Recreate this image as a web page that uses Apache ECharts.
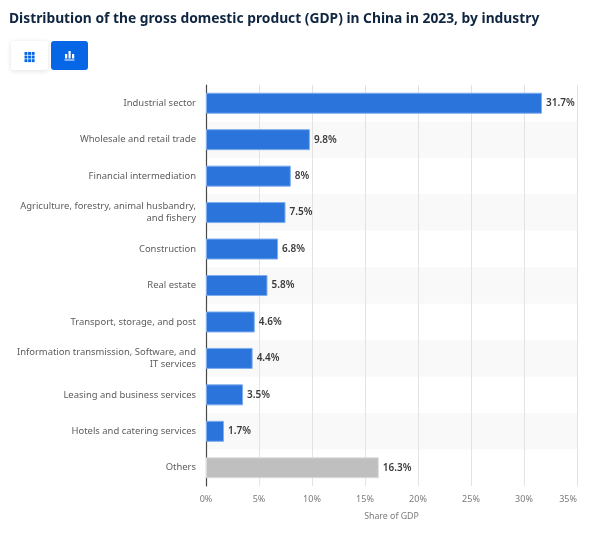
<!DOCTYPE html>
<html>
<head>
<meta charset="utf-8">
<style>
html, body { margin: 0; padding: 0; background: #ffffff; }
#main { width: 602px; height: 547px; }
</style>
<script src="https://cdn.jsdelivr.net/npm/echarts@6/dist/echarts.min.js"></script>
</head>
<body>
<div id="main"></div>
<script>
var categories = [
    'Industrial sector',
    'Wholesale and retail trade',
    'Financial intermediation',
    'Agriculture, forestry, animal husbandry,\nand fishery',
    'Construction',
    'Real estate',
    'Transport, storage, and post',
    'Information transmission, Software, and\nIT services',
    'Leasing and business services',
    'Hotels and catering services',
    'Others'
];
var shares = [31.7, 9.8, 8, 7.5, 6.8, 5.8, 4.6, 4.4, 3.5, 1.7, 16.3];
var greyCategory = 'Others';

var titleText = 'Distribution of the gross domestic product (GDP) in China in 2023, by industry';
var fontName = '"Noto Sans", "Open Sans", sans-serif';

var myChart = echarts.init(document.getElementById('main'));

var barData = shares.map(function (v, i) {
    var grey = categories[i] === greyCategory;
    return {
        value: v,
        itemStyle: {
            color: grey ? '#bfbfbf' : '#2a74db',
            borderColor: grey ? '#dcdcdc' : '#7fadee',
            borderWidth: 1
        }
    };
});

// 两个切换按钮和图标
var gridIcon = [];
for (var r = 0; r < 3; r++) {
    for (var c = 0; c < 3; c++) {
        gridIcon.push({
            type: 'rect',
            shape: { x: 24.5 + c * 3.6, y: 52 + r * 3.6, width: 2.9, height: 2.9 },
            style: { fill: '#0666e5' }
        });
    }
}

var option = {
    animation: false,
    textStyle: { fontFamily: fontName },
    title: {
        text: titleText,
        left: 4,
        top: 7,
        textStyle: { fontFamily: fontName, fontSize: 13.8, fontWeight: 700, color: '#0f2540' }
    },
    graphic: [
        {
            type: 'rect',
            shape: { x: 11, y: 41, width: 37, height: 29, r: 3 },
            style: { fill: '#ffffff', shadowBlur: 5, shadowColor: 'rgba(0,0,0,0.12)', shadowOffsetY: 1 }
        },
        {
            type: 'rect',
            shape: { x: 51, y: 41, width: 37, height: 29, r: 3 },
            style: { fill: '#0666e5' }
        },
        { type: 'rect', shape: { x: 65, y: 54, width: 2.2, height: 4.5 }, style: { fill: '#ffffff' } },
        { type: 'rect', shape: { x: 68.5, y: 51, width: 2.2, height: 7.5 }, style: { fill: '#ffffff' } },
        { type: 'rect', shape: { x: 72, y: 54, width: 2.2, height: 4.5 }, style: { fill: '#ffffff' } },
        { type: 'rect', shape: { x: 64.5, y: 59.5, width: 10, height: 1 }, style: { fill: '#ffffff' } }
    ].concat(gridIcon),
    grid: { left: 206, right: 25, top: 85, bottom: 61, containLabel: false },
    xAxis: {
        type: 'value',
        min: 0,
        max: 35,
        interval: 5,
        name: 'Share of GDP',
        nameLocation: 'middle',
        nameGap: 26,
        nameTextStyle: { color: '#7a7a7a', fontSize: 8.8, fontFamily: fontName },
        axisLine: { show: false },
        axisTick: { show: false },
        axisLabel: {
            color: '#7a7a7a',
            fontSize: 9,
            margin: 9,
            alignMaxLabel: 'right',
            formatter: '{value}%'
        },
        splitLine: { show: true, lineStyle: { color: '#e3e3e3', width: 1 } }
    },
    yAxis: {
        type: 'category',
        inverse: true,
        data: categories,
        axisLine: { show: true, lineStyle: { color: '#4a4a4a', width: 1.2 } },
        axisTick: { show: false },
        axisLabel: {
            color: '#5c5c5c',
            fontSize: 9.45,
            lineHeight: 12,
            margin: 10,
            padding: [4, 0, 0, 0],
            align: 'right'
        },
        splitLine: { show: false },
        splitArea: { show: true, areaStyle: { color: ['#ffffff', '#f9f9f9'] } }
    },
    series: [
        {
            type: 'bar',
            data: barData,
            barWidth: 21,
            label: {
                show: true,
                position: 'right',
                distance: 4,
                color: '#3a3a3a',
                fontSize: 10,
                fontWeight: 600,
                padding: [4, 0, 0, 0],
                formatter: '{c}%'
            }
        }
    ]
};

myChart.setOption(option);
</script>
</body>
</html>
